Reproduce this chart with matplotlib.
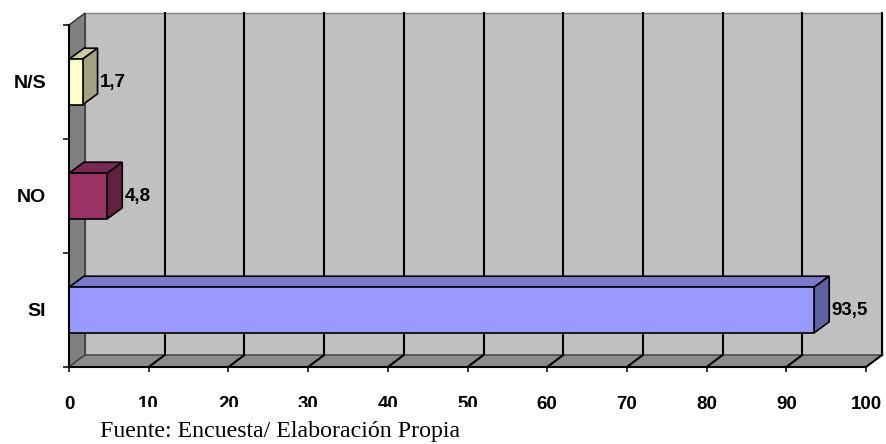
import matplotlib
matplotlib.use("Agg")
import matplotlib.pyplot as plt
from matplotlib.patches import Polygon, Rectangle

# ---------- datos ----------
categorias = ["SI", "NO", "N/S"]
valores = [93.5, 4.8, 1.7]
etiquetas = ["93,5", "4,8", "1,7"]
colores_frente = ["#9999FF", "#993366", "#FFFFCC"]
colores_arriba = ["#7A7ACC", "#7A2952", "#CCCCA3"]
colores_lado = ["#6262A3", "#62213F", "#A3A382"]
x_ticks = list(range(0, 101, 10))
fuente = "Fuente: Encuesta/ Elaboración Propia"

W, H, DPI = 886, 444, 100
fig = plt.figure(figsize=(W / DPI, H / DPI), dpi=DPI)
ax = fig.add_axes([69 / W, (H - 367) / H, (866 - 69) / W, (367 - 25) / H])
ax.set_xlim(0, 100)
ax.set_ylim(-0.5, 2.5)
ax.set_facecolor("none")

# conversión de píxeles a unidades de datos
ux = 100 / (866 - 69)
uy = 3 / (367 - 25)
wdx, wdy = 16 * ux, 12 * uy   # profundidad de las paredes
bdx, bdy = 15 * ux, 11 * uy   # profundidad de las barras
y0, y1 = -0.5, 2.5

# ---------- paredes ----------
ax.add_patch(Rectangle((wdx, y0 + wdy), 100, y1 - y0, facecolor="#C0C0C0",
                       edgecolor="#808080", lw=1, clip_on=False, zorder=1))
for v in x_ticks[1:]:
    ax.plot([v + wdx, v + wdx], [y0 + wdy, y1 + wdy], color="black", lw=1.5,
            clip_on=False, zorder=2)
ax.add_patch(Polygon([(0, y0), (0, y1), (wdx, y1 + wdy), (wdx, y0 + wdy)],
                     closed=True, facecolor="#808080", edgecolor="#303030",
                     lw=1, clip_on=False, zorder=3))
ax.add_patch(Polygon([(0, y0), (100, y0), (100 + wdx, y0 + wdy), (wdx, y0 + wdy)],
                     closed=True, facecolor="#8C8C8C", edgecolor="#404040",
                     lw=1, clip_on=False, zorder=3))
for v in x_ticks[1:]:
    ax.plot([v, v + wdx], [y0, y0 + wdy], color="black", lw=1.5,
            clip_on=False, zorder=4)

# ---------- barras ----------
alto = 0.4
for i, v in enumerate(valores):
    b, t = i - alto / 2, i + alto / 2
    ax.add_patch(Rectangle((0, b), v, alto, facecolor=colores_frente[i],
                           edgecolor="black", lw=1.2, zorder=6, clip_on=False))
    ax.add_patch(Polygon([(0, t), (v, t), (v + bdx, t + bdy), (bdx, t + bdy)],
                         closed=True, facecolor=colores_arriba[i],
                         edgecolor="black", lw=1.2, zorder=5, clip_on=False))
    ax.add_patch(Polygon([(v, b), (v + bdx, b + bdy), (v + bdx, t + bdy), (v, t)],
                         closed=True, facecolor=colores_lado[i],
                         edgecolor="black", lw=1.2, zorder=5, clip_on=False))
    ax.annotate(etiquetas[i], (v, i), xytext=(17, 0), textcoords="offset pixels",
                ha="left", va="center", fontsize=13.5, fontweight="bold",
                family="Liberation Sans", zorder=7, annotation_clip=False)

# ---------- ejes ----------
for s in ("top", "right"):
    ax.spines[s].set_visible(False)
for s in ("left", "bottom"):
    ax.spines[s].set_color("black")
    ax.spines[s].set_linewidth(1.5)
    ax.spines[s].set_zorder(8)

ax.set_xticks(x_ticks)
ax.set_xticklabels([str(v) for v in x_ticks], fontsize=13.5, fontweight="bold",
                   family="Liberation Sans")
ax.tick_params(axis="x", direction="out", length=3.6, width=1.1, pad=17.5)

ax.set_yticks(range(len(categorias)))
ax.set_yticklabels(categorias, fontsize=14, fontweight="bold",
                   family="Liberation Sans")
ax.set_yticks([-0.5, 0.5, 1.5, 2.5], minor=True)
ax.tick_params(axis="y", which="major", length=0, pad=16.5)
ax.tick_params(axis="y", which="minor", direction="out", length=4.3, width=1.1)

# ---------- nota de fuente (tapa parte de las etiquetas 10-50) ----------
fig.patches.append(Rectangle((90 / W, 0), (505 - 90) / W, (H - 407) / H,
                             transform=fig.transFigure, facecolor="white",
                             edgecolor="none", zorder=2))
fig.text(100 / W, 7 / H, fuente, ha="left", va="baseline", fontsize=17.2,
         family="Liberation Serif", zorder=3)

fig.savefig("out.png", dpi=DPI)
